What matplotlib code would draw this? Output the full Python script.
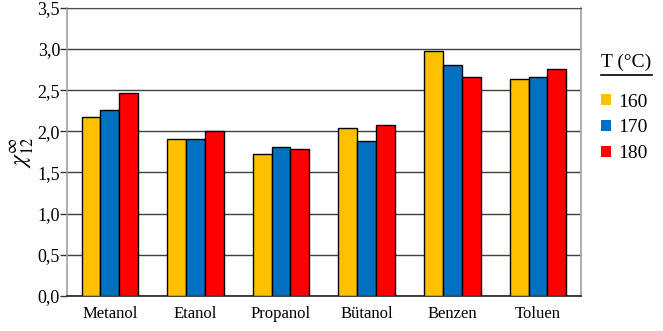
import numpy as np
import matplotlib
matplotlib.use("Agg")
import matplotlib.pyplot as plt
from matplotlib.patches import Patch
from matplotlib.lines import Line2D

plt.rcParams['font.family'] = ['Liberation Serif', 'DejaVu Serif']
plt.rcParams['mathtext.fontset'] = 'stix'

solvents = ['Metanol', 'Etanol', 'Propanol', 'Bütanol', 'Benzen', 'Toluen']
temps = ['160', '170', '180']
gamma_160 = [2.18, 1.91, 1.72, 2.04, 2.98, 2.64]
gamma_170 = [2.26, 1.91, 1.81, 1.88, 2.81, 2.66]
gamma_180 = [2.47, 2.00, 1.78, 2.08, 2.66, 2.76]
colors = ['#FFC000', '#0070C0', '#FF0000']
y_ticks = [0.0, 0.5, 1.0, 1.5, 2.0, 2.5, 3.0, 3.5]

fig = plt.figure(figsize=(6.63, 3.31), dpi=100)
ax = fig.add_axes([0.101, 0.106, 0.775, 0.870])

x = np.arange(len(solvents))
w = 0.22
for i, vals in enumerate([gamma_160, gamma_170, gamma_180]):
    ax.bar(x + (i - 1) * w, vals, width=w, color=colors[i],
           edgecolor='black', linewidth=1.0, zorder=3)

ax.set_xlim(-0.5, len(solvents) - 0.5)
ax.set_ylim(0, 3.5)
ax.set_yticks(y_ticks)
ax.set_yticklabels([f"{v:.1f}".replace('.', ',') for v in y_ticks], fontsize=13)
ax.set_xticks(x)
ax.set_xticklabels(solvents, fontsize=12)
ax.tick_params(axis='x', length=0, pad=7)
ax.tick_params(axis='y', length=5, width=1, color='#333333', pad=0)
ax.yaxis.grid(True, color='#404040', linewidth=1.0, zorder=0)
ax.set_axisbelow(True)

for side in ['left', 'right']:
    ax.spines[side].set_color('#A0A0A0')
    ax.spines[side].set_linewidth(1.2)
ax.spines['top'].set_color('#505050')
ax.spines['bottom'].set_color('#202020')
ax.spines['bottom'].set_linewidth(1.2)

ax.set_ylabel(r'$\chi_{12}^{\infty}$', fontsize=17, labelpad=1)

handles = [Patch(facecolor=c, edgecolor='none') for c in colors]
leg = ax.legend(handles, temps, title='T (°C)', loc='upper left',
                bbox_to_anchor=(1.04, 0.84), frameon=False, fontsize=14,
                title_fontsize=14, handlelength=0.5, handleheight=0.5,
                handletextpad=0.35, labelspacing=0.45, borderaxespad=0,
                borderpad=0)
leg._legend_box.align = 'left'
leg._legend_box.sep = 16

# underline the legend title
fig.canvas.draw()
bb = leg.get_title().get_window_extent().transformed(fig.transFigure.inverted())
fig.add_artist(Line2D([bb.x0, bb.x1], [bb.y0 - 0.01, bb.y0 - 0.01],
                      transform=fig.transFigure, color='black', linewidth=1.2))

fig.savefig('out.png', dpi=100)
